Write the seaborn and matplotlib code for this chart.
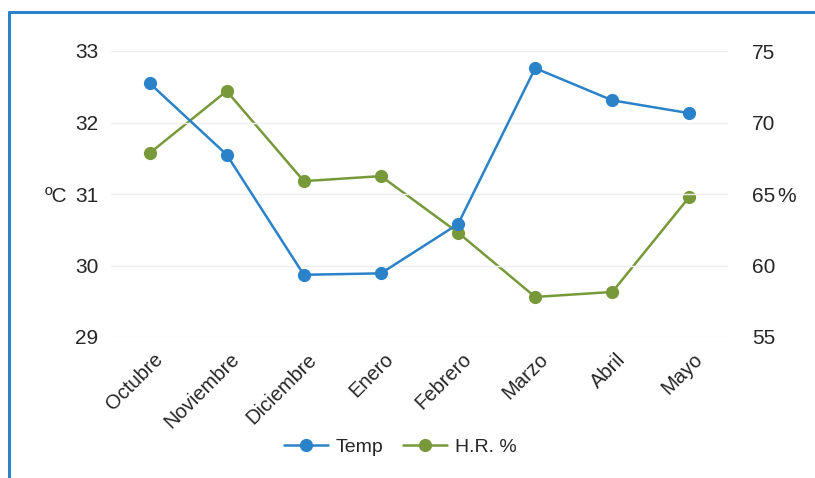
import matplotlib
matplotlib.use("Agg")
import matplotlib.pyplot as plt
import matplotlib.transforms as mtransforms
import seaborn as sns
import pandas as pd
from matplotlib.lines import Line2D

months = ["Octubre", "Noviembre", "Diciembre", "Enero", "Febrero", "Marzo", "Abril", "Mayo"]
temp = [32.55, 31.55, 29.87, 29.89, 30.58, 32.76, 32.31, 32.13]
hr = [67.85, 72.2, 65.9, 66.25, 62.3, 57.8, 58.15, 64.8]
temp_ticks = [29, 30, 31, 32, 33]
hr_ticks = [55, 60, 65, 70, 75]

BLUE = "#2a82c9"
GREEN = "#77993a"
TEXT = "#262626"

sns.set_theme(style="white")
plt.rcParams["font.family"] = ["Liberation Sans", "DejaVu Sans"]

df = pd.DataFrame({"mes": months, "x": range(len(months)), "Temp": temp, "HR": hr})

fig = plt.figure(figsize=(8.15, 4.78), dpi=100)
ax = fig.add_axes([111 / 815, 1 - 337 / 478, 617 / 815, 286 / 478])
ax2 = ax.twinx()

sns.lineplot(data=df, x="x", y="Temp", ax=ax, color=BLUE, marker="o", markersize=9.5,
             markeredgewidth=0, linewidth=1.8, zorder=3)
sns.lineplot(data=df, x="x", y="HR", ax=ax2, color=GREEN, marker="o", markersize=9.5,
             markeredgewidth=0, linewidth=1.8, zorder=3)

ax.set_xlim(-0.5, len(months) - 0.5)
ax.set_ylim(29, 33)
ax2.set_ylim(55, 75)
ax.set_yticks(temp_ticks)
ax2.set_yticks(hr_ticks)
ax.set_yticklabels([str(t) for t in temp_ticks], fontsize=15, color=TEXT)
ax2.set_yticklabels([str(t) for t in hr_ticks], fontsize=15, color=TEXT)
ax.tick_params(axis="y", length=0, pad=9)
ax2.tick_params(axis="y", length=0, pad=17.5)

ax.set_xticks(range(len(months)))
ax.set_xticklabels(months, rotation=45, ha="right", va="center",
                   rotation_mode="anchor", fontsize=14.5, color=TEXT)
ax.tick_params(axis="x", length=0, pad=14)
shift = mtransforms.ScaledTranslation(10 / 100, 0, fig.dpi_scale_trans)
for lbl in ax.get_xticklabels():
    lbl.set_transform(lbl.get_transform() + shift)

ax.grid(axis="y", color="#efefef", linewidth=1)
ax.grid(axis="x", visible=False)
ax2.grid(False)
ax.set_xlabel("")
ax.set_ylabel("")
ax2.set_ylabel("")
for a in (ax, ax2):
    for s in a.spines.values():
        s.set_visible(False)
ax.set_zorder(ax2.get_zorder() + 1)
ax.patch.set_visible(False)

fig.text(45 / 815, 1 - 194 / 478, "ºC", fontsize=15, color=TEXT, ha="left", va="center_baseline")
fig.text(777 / 815, 1 - 194 / 478, "%", fontsize=15, color=TEXT, ha="left", va="center_baseline")

handles = [
    Line2D([], [], color=BLUE, marker="o", markersize=9.5, markeredgewidth=0, linewidth=1.8),
    Line2D([], [], color=GREEN, marker="o", markersize=9.5, markeredgewidth=0, linewidth=1.8),
]
fig.legend(handles, ["Temp", "H.R. %"], loc="center", bbox_to_anchor=(400 / 815, 1 - 447 / 478),
           ncol=2, frameon=False, fontsize=14, handlelength=2.3, columnspacing=1.0,
           handletextpad=0.37, labelcolor=TEXT)

# blue frame around the chart area
fig.add_artist(Line2D([9 / 815, 1.0], [1 - 12 / 478] * 2, color=BLUE, linewidth=2.2,
                      transform=fig.transFigure))
fig.add_artist(Line2D([9 / 815] * 2, [0.0, 1 - 12 / 478], color=BLUE, linewidth=2.2,
                      transform=fig.transFigure))

fig.savefig("out.png", dpi=100, facecolor="white")
